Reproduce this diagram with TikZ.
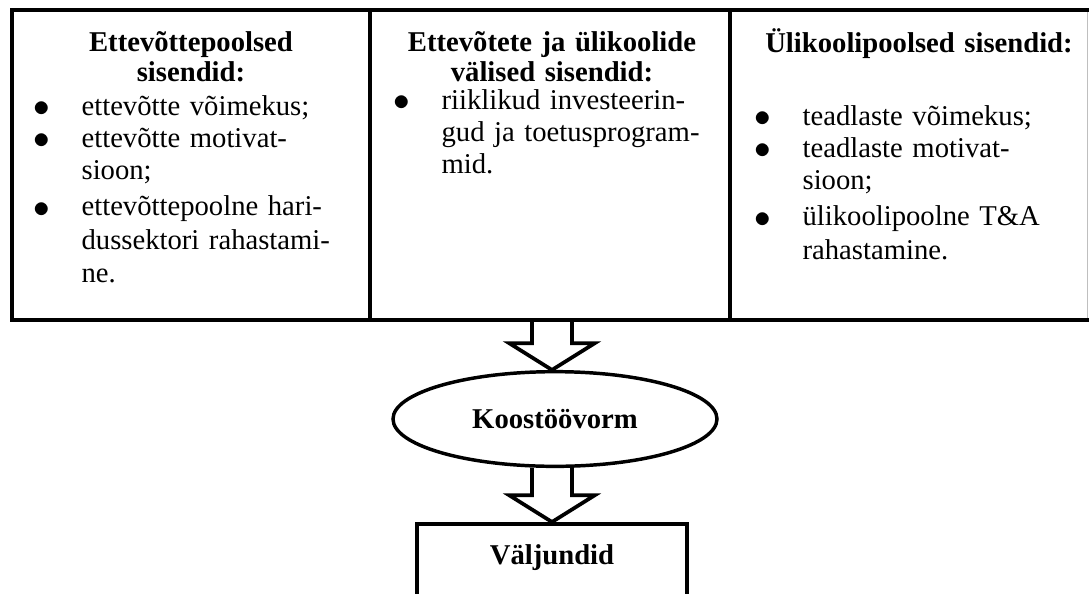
\documentclass[tikz,border=0pt]{standalone}
\usepackage{fontspec}
\setmainfont{Liberation Serif}
\usetikzlibrary{positioning, calc, shapes.geometric}

\newlength{\bulw}
\setlength{\bulw}{35.5pt}
\newcommand{\bitem}[1]{\noindent\hangindent=\bulw\hangafter=1%
  \makebox[\bulw][l]{\hspace{-0.5pt}\raisebox{-1pt}{\scalebox{1.2}{$\bullet$}}}#1\par}
\newcommand{\lastitem}{\fontsize{21.5}{25}\selectfont\vspace{2.5pt}}

\tikzset{
  txt/.style={font=\fontsize{21.5}{24}\selectfont},
  boldtxt/.style={font=\fontsize{21.5}{22.5}\selectfont\bfseries},
  colbox/.style={draw, line width=3pt, outer sep=0pt, anchor=north west, minimum height=232.5pt},
  head/.style={boldtxt, text width=270pt, align=center, inner sep=0pt, anchor=base},
  list/.style={txt, text width=280pt, inner sep=0pt, anchor=base west},
  blockarr/.style={line width=2.8pt, line join=miter},
}

\begin{document}
\begin{tikzpicture}[x=0.75pt, y=-0.75pt]
  \useasboundingbox (0,0) rectangle (1089,593);

  % three input columns
  \node[colbox, minimum width=268.5pt] (ettev) at (12,10) {};
  \node[colbox, minimum width=270pt] (valis) at (ettev.north east) {};
  \node[colbox, minimum width=283.5pt] (ulik) at (valis.north east) {};
  \draw[gray!50, thin] (1087,12) -- (1087,318);

  \node[head] (h1) at (191,51) {Ettevõttepoolsed\\sisendid:};
  \node[head] (h2) at (552,51) {Ettevõtete ja ülikoolide\\välised sisendid:};
  \node[head] (h3) at (919,52) {Ülikoolipoolsed sisendid:};

  \node[list] (l1) at (34,115) {%
    \bitem{ettevõtte võimekus;}%
    \bitem{ettevõtte motivat-\newline sioon;}%
    \lastitem
    \bitem{ettevõttepoolne hari-\newline dussektori rahastami-\newline ne.}};
  \node[list] (l2) at (394,109) {%
    \bitem{riiklikud investeerin-\newline gud ja toetusprogram-\newline mid.}};
  \node[list] (l3) at (755,125) {%
    \bitem{teadlaste võimekus;}%
    \bitem{teadlaste motivat-\newline sioon;}%
    \lastitem
    \bitem{ülikoolipoolne T\&A\newline rahastamine.}};

  % form of cooperation and outputs
  \node[ellipse, draw, line width=2.6pt, minimum width=243pt, minimum height=71pt,
    boldtxt] (ell) at (555,419) {Koostöövorm};
  \node[draw, line width=3pt, anchor=north, minimum width=203pt, inner ysep=0pt,
    text height=30pt, text depth=56pt, boldtxt] (out) at (552,522) {Väljundid};

  % hollow arrows
  \foreach \src/\dst in {out.north |- valis.south/out.north |- ell.north,
                         out.north |- ell.south/out.north}
    \draw[blockarr] ($(\src)+(-15pt,0)$) -- ($(\dst)+(-15pt,20pt)$)
      -- ($(\dst)+(-32pt,20pt)$) -- (\dst) -- ($(\dst)+(32pt,20pt)$)
      -- ($(\dst)+(15pt,20pt)$) -- ($(\src)+(15pt,0)$);
\end{tikzpicture}
\end{document}
